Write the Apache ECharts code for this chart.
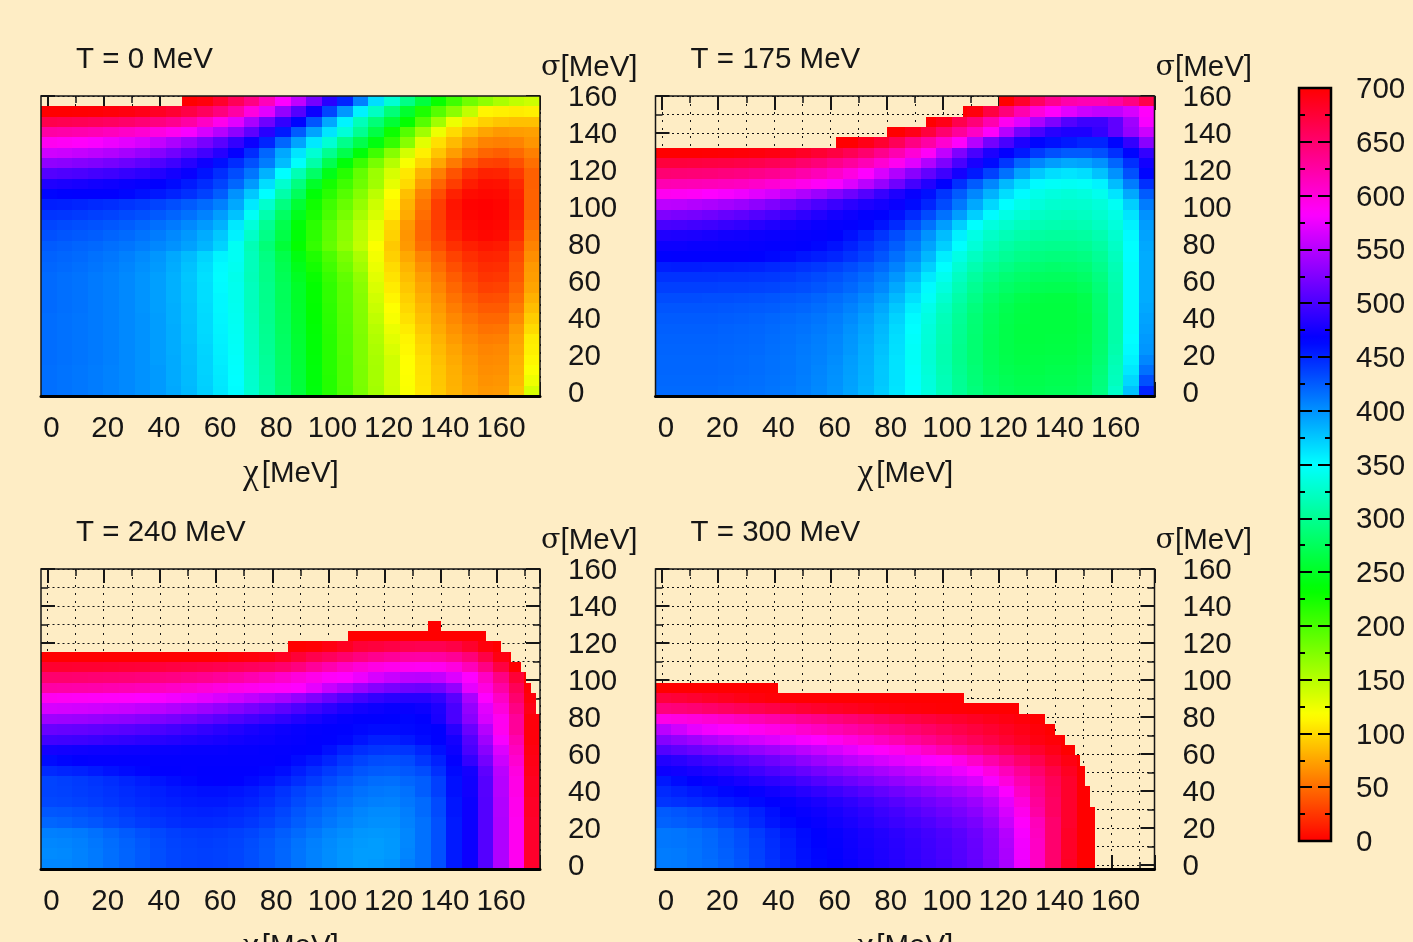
<!DOCTYPE html>
<html><head><meta charset="utf-8">
<style>html,body{margin:0;padding:0;background:#feedc5;overflow:hidden}#c{width:1413px;height:942px}</style>
<script src="https://cdn.jsdelivr.net/npm/echarts@6/dist/echarts.min.js"></script></head>
<body><div id="c"></div>
<script>
const _ = null;
const panelTitles = ['T = 0 MeV','T = 175 MeV','T = 240 MeV','T = 300 MeV'];
const colorTicksMax = 700;
// cell coverage along chi and sigma (bottom row first)
const chiRange = [-2.3, 175.3];
const sigmaRange = [-2.16, 160];
const nCols = 32, nRows = 29;

const t0 = [
[416,414,412,410,407,404,400,396,390,382,372,361,351,328,306,283,261,239,217,198,178,159,139,119,105,92,82,74,69,70,88,135],
[416,414,412,410,407,404,400,396,389,381,371,360,350,327,305,282,260,238,217,197,177,158,138,118,104,91,81,73,67,68,84,124],
[416,414,412,410,407,404,400,396,389,381,370,359,349,326,304,281,259,238,216,197,177,158,138,117,103,90,80,71,65,66,82,118],
[417,415,413,411,408,404,400,395,389,380,370,358,348,325,303,280,258,237,216,197,176,157,138,116,102,88,78,69,63,64,80,113],
[417,415,413,411,408,404,400,395,388,380,369,357,347,324,301,279,257,236,216,196,176,155,134,114,99,85,75,66,61,62,77,110],
[417,415,413,411,408,404,400,395,388,379,368,356,346,323,300,278,256,236,216,196,176,153,130,112,96,82,71,62,57,58,74,108],
[417,415,413,411,408,404,400,395,388,379,367,355,345,322,299,277,255,235,215,195,175,150,126,108,92,78,67,58,52,53,70,100],
[417,415,413,411,408,404,400,395,387,378,367,354,344,321,298,276,254,234,214,194,174,146,120,103,88,74,62,53,47,47,63,94],
[418,416,414,411,408,404,399,394,387,378,366,353,343,320,298,275,253,233,213,193,173,142,117,99,84,70,57,47,41,41,56,87],
[418,416,414,411,408,404,399,394,386,377,365,353,342,320,297,274,252,232,212,192,172,138,112,95,80,66,52,42,35,36,50,81],
[418,416,414,411,408,404,399,394,386,377,365,352,342,320,297,274,252,232,212,192,170,134,108,91,76,61,47,36,29,30,45,75],
[418,416,414,411,408,404,399,394,386,376,364,351,341,318,295,272,249,229,209,189,167,130,104,87,72,56,42,31,24,25,40,72],
[420,418,416,413,410,406,401,396,388,378,366,352,343,319,295,270,245,224,204,183,160,126,100,83,66,50,36,26,20,21,38,70],
[422,420,418,415,412,408,403,398,390,381,369,355,345,319,293,267,240,219,199,178,155,122,95,77,60,44,30,21,16,17,34,65],
[425,423,421,419,416,413,409,405,400,393,384,370,345,316,288,259,232,210,188,167,145,118,92,70,50,35,22,14,10,12,28,60],
[430,428,426,424,421,418,414,410,404,397,388,375,356,325,295,266,236,213,191,170,148,125,96,68,46,30,15,6,3,5,20,55],
[435,433,431,429,427,424,420,416,411,404,396,385,360,333,300,268,236,214,192,171,149,127,98,70,46,28,12,4,2,3,16,50],
[443,442,440,438,436,433,430,426,421,415,407,395,378,346,313,278,246,222,200,179,157,135,108,78,50,28,10,2,0,2,14,45],
[453,452,450,448,446,443,440,436,431,425,418,408,390,360,327,292,257,226,205,186,165,140,112,82,54,28,9,1,0,2,13,45],
[465,466,467,467,467,464,460,456,451,445,437,424,400,375,350,311,275,236,215,195,173,148,117,88,60,35,15,5,3,4,14,45],
[481,479,477,475,473,471,469,467,462,455,447,436,420,396,365,328,292,252,224,205,183,160,128,100,72,46,28,13,7,8,18,44],
[505,503,501,498,495,491,487,482,476,470,458,446,432,413,385,350,316,280,244,216,188,162,135,106,82,58,38,22,15,16,25,44],
[533,531,528,525,521,516,510,503,495,484,473,460,447,430,410,380,348,310,270,237,207,179,150,120,98,76,56,40,30,29,36,51],
[562,560,557,553,549,543,536,528,519,508,497,484,469,447,420,390,362,330,299,268,237,205,172,137,110,90,72,56,46,43,48,58],
[590,588,585,581,576,571,565,556,546,535,522,508,490,472,450,420,392,360,330,297,268,240,210,172,130,102,85,70,60,58,60,68],
[625,623,621,618,614,609,604,597,590,580,565,550,532,510,485,455,425,392,362,332,300,265,228,195,160,125,100,85,75,70,72,73],
[665,663,661,659,656,652,647,642,635,625,610,592,570,545,518,490,465,428,390,355,318,288,258,232,195,160,125,105,95,90,88,88],
[700,700,699,698,696,693,689,684,677,668,657,643,625,598,570,535,505,472,435,397,356,322,288,255,220,195,170,145,112,110,108,110],
[_,_,_,_,_,_,_,_,_,700,695,680,660,640,615,583,555,520,485,450,408,365,330,295,262,230,205,182,168,155,146,140]
];
const t0Start = {28:47.9};
const t0End = {};

const t175 = [
[418,418,418,418,417,416,415,413,411,408,404,399,392,384,374,362,350,335,318,302,290,280,274,271,270,272,272,276,292,325,378,450],
[419,419,419,419,418,417,416,414,412,409,405,400,393,385,375,363,349,334,317,301,288,278,272,269,268,270,270,274,290,320,368,430],
[420,420,420,420,419,418,417,415,413,410,406,401,394,386,375,363,348,332,315,299,287,276,270,267,266,268,268,272,288,318,360,415],
[420,420,420,420,419,418,417,415,413,410,407,402,395,387,376,363,347,331,314,298,285,275,268,265,265,266,266,270,285,315,355,405],
[421,421,421,421,420,419,418,416,414,411,408,404,397,388,378,364,347,331,314,298,285,274,267,264,263,264,264,268,283,312,352,398],
[422,422,422,422,421,420,419,417,415,412,409,405,398,390,380,365,348,332,315,299,285,274,267,263,262,263,263,267,282,310,350,396],
[423,423,423,423,422,421,420,418,416,414,411,407,400,392,382,367,350,333,316,300,286,275,267,263,262,262,262,266,282,310,348,394],
[425,425,425,425,424,423,422,420,418,416,413,409,403,395,385,370,352,336,318,302,287,276,268,264,262,262,262,266,282,310,348,392],
[428,428,428,428,427,426,425,424,422,420,417,413,407,400,390,375,357,340,322,305,290,278,270,265,262,262,262,267,283,310,348,390],
[432,432,432,431,431,430,429,428,426,424,421,417,412,405,396,382,364,347,328,310,295,282,274,268,264,263,263,268,284,310,348,388],
[438,438,438,438,437,437,436,435,433,431,428,424,419,412,404,390,372,352,335,316,300,288,280,275,271,270,270,274,288,312,348,388],
[444,444,444,444,443,443,442,441,439,436,433,429,424,418,410,398,382,360,342,322,306,294,286,281,277,276,276,280,292,314,348,388],
[453,454,454,453,453,452,451,449,447,444,441,437,432,426,418,407,392,372,350,330,314,302,294,288,284,282,283,286,297,316,348,388],
[466,467,467,467,467,467,466,464,461,457,454,450,444,437,428,416,402,383,358,338,322,310,302,296,292,290,290,293,302,320,350,388],
[472,472,471,471,470,470,469,468,468,467,464,459,452,444,435,424,410,392,372,350,332,318,309,303,299,298,298,300,308,324,350,390],
[481,480,479,477,475,474,472,471,470,469,468,466,460,452,443,432,418,400,380,357,338,325,317,311,307,305,305,307,314,328,352,392],
[500,499,497,495,492,489,485,481,477,474,471,469,468,465,458,448,432,415,395,372,350,335,327,320,316,314,313,315,322,334,356,395],
[525,523,521,518,514,510,505,500,494,488,482,476,472,468,466,460,448,433,415,395,372,352,338,330,324,321,320,322,328,338,362,400],
[553,552,549,546,542,538,532,525,517,509,501,493,486,480,476,471,462,450,433,412,390,368,350,340,333,328,327,328,333,345,372,410],
[590,589,587,583,580,576,570,564,555,547,538,528,517,505,492,480,470,460,443,425,405,385,365,352,340,335,332,335,342,362,390,425],
[619,618,617,616,614,612,608,603,598,593,587,580,568,552,536,518,498,482,467,445,425,405,382,365,352,347,345,347,355,380,410,445],
[648,647,646,645,643,641,638,634,628,622,616,608,597,583,566,548,530,512,495,476,455,437,415,392,375,365,362,365,378,400,430,465],
[672,672,671,670,669,667,665,661,657,651,645,637,628,617,604,590,570,548,525,500,478,462,442,420,405,395,390,392,400,420,445,475],
[700,700,700,699,698,697,695,692,688,683,677,670,661,650,636,620,602,587,555,525,500,480,468,455,440,430,425,425,430,445,465,490],
[_,_,_,_,_,_,_,_,_,_,_,700,700,690,678,660,640,625,605,585,550,520,500,480,465,460,455,450,450,465,490,530],
[_,_,_,_,_,_,_,_,_,_,_,_,_,_,700,700,690,672,650,630,610,585,550,520,500,485,480,480,490,510,535,560],
[_,_,_,_,_,_,_,_,_,_,_,_,_,_,_,_,_,700,690,665,645,620,590,570,545,525,505,495,495,510,540,580],
[_,_,_,_,_,_,_,_,_,_,_,_,_,_,_,_,_,_,_,700,695,670,645,620,600,585,570,560,555,555,565,585],
[_,_,_,_,_,_,_,_,_,_,_,_,_,_,_,_,_,_,_,_,_,_,700,680,655,635,622,618,618,625,640,665]
];
const t175Start = {24:62,25:80,26:94,27:107,28:119.4};
const t175End = {};

const t240 = [
[405,405,407,411,416,421,426,431,435,437,438,437,435,431,426,420,413,407,402,398,395,396,399,408,415,430,455,472,505,547,590,680],
[403,404,407,411,416,421,426,431,435,437,438,437,435,431,426,420,413,407,402,398,395,395,397,406,415,430,455,472,505,547,590,680],
[405,406,408,412,417,422,427,432,436,438,439,438,436,432,427,421,414,408,403,399,396,395,397,405,415,430,455,472,505,547,590,680],
[408,409,411,415,420,425,430,434,438,440,441,440,438,435,430,424,418,412,406,402,398,397,398,405,415,430,455,472,505,547,590,680],
[420,422,425,428,432,436,440,443,446,448,448,447,445,442,437,431,424,418,412,407,403,401,401,407,415,430,455,472,505,547,590,680],
[427,428,430,433,436,440,444,447,449,451,452,451,449,446,441,435,428,422,416,411,406,403,403,409,418,433,457,472,505,548,592,682],
[434,435,437,439,442,445,448,451,453,455,456,456,454,451,446,440,433,427,421,416,411,408,407,412,418,433,457,472,505,548,592,682],
[436,437,439,441,444,447,450,453,456,458,460,460,458,455,450,444,437,431,425,420,415,412,411,415,424,438,460,474,506,550,595,685],
[436,438,440,443,446,450,454,458,461,464,466,467,466,463,459,453,446,439,432,426,421,417,416,420,424,438,460,474,506,550,595,685],
[448,450,452,455,459,462,465,467,467,468,467,467,467,467,465,461,454,447,440,434,428,425,424,427,432,445,463,476,510,552,598,688],
[462,465,467,468,468,468,468,468,468,468,468,468,468,468,468,467,462,457,450,442,436,432,431,433,442,452,468,490,520,560,605,690],
[476,475,474,473,473,472,472,471,471,470,470,470,469,469,468,468,467,466,460,452,446,443,442,443,450,460,472,500,530,568,612,692],
[497,496,495,493,491,489,487,485,483,481,479,477,475,473,472,470,469,467,466,464,458,453,453,456,462,466,476,505,540,580,620,695],
[515,514,513,511,509,507,504,501,498,494,490,486,482,478,475,472,470,468,467,466,464,462,462,463,465,467,485,515,550,590,630,695],
[540,539,538,536,534,532,529,525,522,518,513,508,503,498,493,488,482,477,472,469,467,467,466,465,467,478,500,530,565,590,630,695],
[565,564,563,562,560,558,555,552,548,544,539,534,528,522,516,509,502,494,487,480,475,472,470,470,472,480,500,535,570,600,640,690],
[590,589,588,587,586,585,583,581,578,575,571,566,561,555,549,543,535,525,515,505,497,490,486,484,484,490,508,545,583,610,650,695],
[625,624,623,622,620,618,616,613,610,606,602,598,594,591,588,586,583,572,558,548,537,528,522,518,516,520,535,572,597,625,660,698],
[650,650,649,648,647,646,644,642,640,637,634,630,626,620,614,607,600,593,586,583,575,565,558,553,552,556,568,583,610,640,675,700],
[678,678,677,677,676,675,674,672,670,668,666,664,661,658,655,650,642,630,620,610,602,596,592,590,589,590,598,615,640,670,700],
[700,700,700,700,700,700,700,700,700,700,700,699,697,695,692,685,675,665,658,650,642,635,630,626,625,626,632,645,668,692,700],
[_,_,_,_,_,_,_,_,_,_,_,_,_,_,_,700,700,698,692,685,675,672,668,665,663,663,668,680,695,700],
[_,_,_,_,_,_,_,_,_,_,_,_,_,_,_,_,_,_,_,700,700,700,700,700,700,700,700,700,700],
[_,_,_,_,_,_,_,_,_,_,_,_,_,_,_,_,_,_,_,_,_,_,_,_,700,700]
];
const t240Start = {21:85.5,22:107,23:135.4};
const t240End = {15:173.8,16:173.8,17:172,18:170.4,19:168.6,20:165,21:161.4,22:156,23:139.9};

const t300 = [
[410,411,414,417,422,428,436,444,452,459,464,467,471,475,479,483,488,493,498,504,512,524,544,576,610,650,684,700,700],
[410,411,414,418,423,429,437,445,453,460,465,468,472,476,480,484,489,494,499,505,513,525,545,577,610,650,682,700,700],
[412,413,415,419,425,431,438,446,454,461,466,469,473,477,481,485,490,495,500,506,514,526,547,578,610,650,682,700,700],
[412,413,416,420,426,432,440,448,456,462,467,470,474,478,482,487,492,497,502,508,516,528,550,580,612,650,682,700,700],
[422,424,427,431,436,442,449,457,463,467,470,474,478,483,488,493,498,503,509,515,522,535,558,585,615,650,680,700,700],
[425,428,431,435,440,445,452,460,467,470,473,477,482,487,493,498,504,510,516,522,530,542,565,592,625,655,680,700,700],
[443,445,448,451,455,459,463,467,470,474,478,483,488,494,500,506,512,518,524,530,538,550,572,600,630,655,680,700],
[448,452,456,460,464,467,470,474,479,484,489,494,500,506,512,518,524,530,536,542,550,562,582,610,635,658,680,700],
[456,462,467,470,473,477,482,487,492,498,504,510,516,522,528,534,540,546,552,558,566,580,600,620,640,660,680,700],
[472,474,477,481,485,490,496,502,508,514,520,526,532,538,544,550,556,562,568,575,583,598,615,632,650,668,685,700],
[482,486,491,496,500,505,511,517,524,531,538,545,552,558,564,570,575,581,585,595,608,622,636,650,664,680,692,700],
[505,510,515,520,525,530,535,540,546,552,558,565,572,580,586,592,600,610,620,630,640,650,660,670,680,690,700],
[528,534,540,547,553,558,563,568,574,579,583,590,598,605,612,620,628,636,644,652,660,668,676,684,692,697,700],
[552,562,572,578,582,585,590,595,600,606,612,618,624,630,636,642,648,654,660,666,672,678,684,690,696,700],
[595,597,600,604,608,613,618,623,628,633,638,643,648,653,658,663,668,672,676,680,684,688,692,696,700],
[643,645,648,652,656,660,664,668,672,676,680,683,686,689,692,694,696,697,698,699,700,700,700,700],
[672,675,678,682,686,690,694,697,700,700,700,700,700,700,700,700,700,700,700,700],
[700,700,700,700,700,700,700,700]
];
const t300Start = {};
const t300End = {0:154.2,1:154.2,2:154.2,3:154.2,4:154.2,5:154.2,6:152.3,7:152.3,8:150.5,9:150.5,10:148.8,11:147,12:143.4,13:139.9,14:136.3,15:127,16:107.6,17:41.4};

const tables = [t0,t175,t240,t300];
const starts = [t0Start,t175Start,t240Start,t300Start];
const ends = [t0End,t175End,t240End,t300End];

const INK = '#161616', FONT = '"Liberation Sans",Arial,sans-serif', FS = 29.5;
const lefts = [41,655.5,41,655.5], tops = [96,96,569,569];
const cx = (chiRange[1]-chiRange[0])/nCols, cy = (sigmaRange[1]-sigmaRange[0])/nRows;

const grids=[], xAxes=[], yAxes=[], series=[], titles=[];
const noLine = {show:false,onZero:false};
const majorTick = {show:true,inside:true,length:14,lineStyle:{color:INK,width:2}};
const minorTick = {show:true,splitNumber:2,length:7,lineStyle:{color:INK,width:1.5}};
const mult20 = v => (Math.abs(v%20)<1e-6 ? String(Math.round(v)) : '');
const xDots = {show:true,lineStyle:{color:INK,width:1,type:[2,6]}};
const yDots = {show:true,lineStyle:{color:INK,width:1,type:[2,3]}};

tables.forEach((tb,i)=>{
  // data grid: zero of both axes sits inside the frame, so ticks count from 0
  grids.push({left:lefts[i]+6.5,top:tops[i],width:492.5,height:296});
  const n = xAxes.length, m = yAxes.length;
  const xbase = {type:'value',gridIndex:i,min:0,max:chiRange[1],interval:20,z:0,
    axisLine:noLine,axisLabel:{show:false},axisTick:majorTick,minorTick,splitLine:{show:false}};
  xAxes.push(Object.assign({},xbase,{position:'bottom',offset:4,
    axisLabel:{show:true,color:INK,fontFamily:FONT,fontSize:FS,margin:18,padding:[0,0,0,8],formatter:mult20,showMaxLabel:false},
    splitLine:xDots,minorSplitLine:xDots}));
  xAxes.push(Object.assign({},xbase,{position:'top'}));
  const ybase = {type:'value',gridIndex:i,min:0,max:sigmaRange[1],interval:20,z:0,
    axisLine:noLine,axisLabel:{show:false},axisTick:majorTick,minorTick,splitLine:{show:false}};
  yAxes.push(Object.assign({},ybase,{position:'right',splitLine:yDots,minorSplitLine:yDots}));
  yAxes.push(Object.assign({},ybase,{position:'left',offset:6.5}));

  const data=[];
  tb.forEach((row,r)=>{
    const lo = r in starts[i] ? starts[i][r] : chiRange[0];
    const hi = r in ends[i] ? ends[i][r] : chiRange[1];
    row.forEach((v,c)=>{ if(v!==null) data.push([chiRange[0]+(c+.5)*cx, sigmaRange[0]+(r+.5)*cy, v, lo, hi]); });
  });
  series.push({type:'custom',xAxisIndex:n,yAxisIndex:m,z:2,silent:true,clip:false,
    encode:{x:0,y:1},data,animation:false,
    renderItem:(p,api)=>{
      const a=api.value(0),b=api.value(1),lo=api.value(3),hi=api.value(4);
      const x0=Math.max(a-cx/2,lo),x1=Math.min(a+cx/2,hi);
      if(x1<=x0) return null;
      const A=api.coord([x0,b-cy/2]),B=api.coord([x1,b+cy/2]);
      const X=Math.round(A[0]),Y=Math.round(B[1]);
      return {type:'rect',shape:{x:X,y:Y,width:Math.round(B[0])-X,height:Math.round(A[1])-Y},
        style:{fill:api.visual('color')}};
    }});
  const dx = lefts[i]-41, dy = tops[i]-96;
  titles.push({text:panelTitles[i],left:76+dx,top:45+dy,textStyle:{color:INK,fontFamily:FONT,fontSize:FS,fontWeight:'normal'},padding:0});
  titles.push({text:'{g|σ}[MeV]',left:541+dx,top:53+dy,padding:0,textStyle:{color:INK,fontFamily:FONT,fontSize:FS,fontWeight:'normal',
    rich:{g:{fontFamily:'"DejaVu Serif","Liberation Serif",serif',fontSize:FS-1,color:INK}}}});
  titles.push({text:'{g|χ}[MeV]',left:243+dx,top:456+dy,padding:0,textStyle:{color:INK,fontFamily:FONT,fontSize:FS,fontWeight:'normal',
    rich:{g:{fontFamily:'"Liberation Serif",serif',fontSize:FS+6,color:INK,padding:[0,3,0,0]}}}});
});

// panel frames, above the cells, and sigma tick labels on a grid lowered to centre the digits on their ticks
tables.forEach((tb,i)=>{
  const g = grids.length;
  grids.push({left:lefts[i],top:tops[i],width:499,height:300,show:true,z:8,backgroundColor:'transparent',borderColor:INK,borderWidth:1.5});
  xAxes.push({type:'value',gridIndex:g,min:0,max:1,position:'bottom',z:9,
    axisLine:{show:true,onZero:false,lineStyle:{color:'#000',width:3}},axisTick:{show:false},axisLabel:{show:false},splitLine:{show:false}});
  yAxes.push({type:'value',gridIndex:g,min:0,max:1,show:false});
  const l = grids.length;
  grids.push({left:lefts[i],top:tops[i]+2,width:499,height:296});
  xAxes.push({type:'value',gridIndex:l,min:0,max:1,show:false});
  yAxes.push({type:'value',gridIndex:l,min:0,max:sigmaRange[1],interval:20,position:'right',
    axisLine:noLine,axisTick:{show:false},splitLine:{show:false},
    axisLabel:{show:true,color:INK,fontFamily:FONT,fontSize:FS,margin:28,formatter:mult20,align:'left'}});
});

// colour bar frame, ticks and labels
const gi = grids.length;
grids.push({left:1299,top:88,width:32,height:753,show:true,z:8,backgroundColor:'transparent',borderColor:'#000',borderWidth:2.5});
xAxes.push({type:'value',gridIndex:gi,min:0,max:1,show:false});
const barTickM={show:true,inside:true,length:13,lineStyle:{color:'#000',width:2}};
const barTickS={show:true,splitNumber:2,length:6,lineStyle:{color:'#000',width:2}};
yAxes.push({type:'value',gridIndex:gi,min:0,max:colorTicksMax,interval:50,position:'right',z:9,
  axisLine:noLine,axisTick:barTickM,minorTick:barTickS,splitLine:{show:false},axisLabel:{show:false}});
yAxes.push({type:'value',gridIndex:gi,min:0,max:colorTicksMax,interval:50,position:'left',z:9,
  axisLine:noLine,axisTick:barTickM,minorTick:barTickS,splitLine:{show:false},axisLabel:{show:false}});
const gb = grids.length;
grids.push({left:1299,top:90,width:32,height:753});
xAxes.push({type:'value',gridIndex:gb,min:0,max:1,show:false});
yAxes.push({type:'value',gridIndex:gb,min:0,max:colorTicksMax,interval:50,position:'right',
  axisLine:noLine,axisTick:{show:false},splitLine:{show:false},
  axisLabel:{show:true,color:INK,fontFamily:FONT,fontSize:FS,margin:25,align:'left'}});

const chart = echarts.init(document.getElementById('c'),null,{renderer:'canvas'});
chart.setOption({
  backgroundColor:'#feedc5',animation:false,
  title:titles,grid:grids,xAxis:xAxes,yAxis:yAxes,series,
  visualMap:{type:'continuous',seriesIndex:[0,1,2,3],dimension:2,min:0,max:colorTicksMax,
    left:1299,top:88,itemWidth:32,itemHeight:753,padding:0,text:null,showLabel:false,calculable:false,
    hoverLink:false,realtime:false,z:4,
    inRange:{color:['#ff0000','#ffff00','#00ff00','#00ffff','#0000ff','#ff00ff','#ff0000']}}
});
</script></body></html>
